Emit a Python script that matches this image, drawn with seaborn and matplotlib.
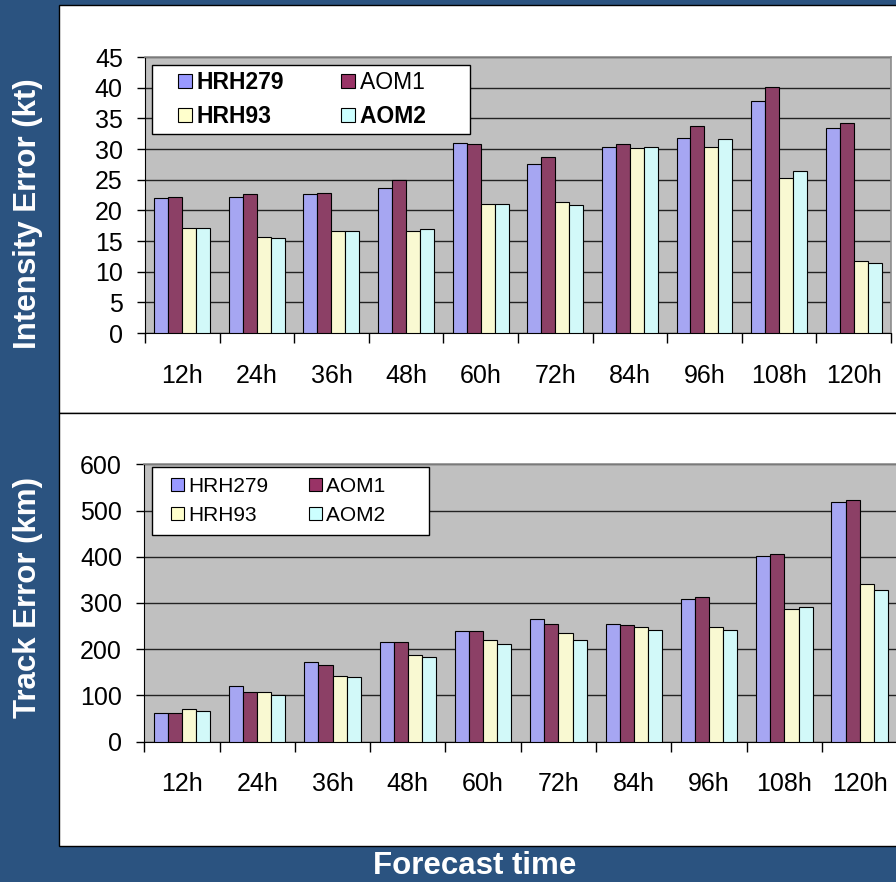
import matplotlib
matplotlib.use("Agg")
import matplotlib.pyplot as plt
from matplotlib.legend_handler import HandlerPatch
from matplotlib.patches import Patch, Rectangle
import pandas as pd
import seaborn as sns

plt.rcParams["font.family"] = ["Liberation Sans", "DejaVu Sans"]

NAVY = "#2B5380"
SERIES = ["HRH279", "AOM1", "HRH93", "AOM2"]
SERIES_COLORS = {"HRH279": "#9999FF", "AOM1": "#993366", "HRH93": "#FFFFCC", "AOM2": "#CCFFFF"}
LEAD_TIMES = ["12h", "24h", "36h", "48h", "60h", "72h", "84h", "96h", "108h", "120h"]

# intensity error (kt)
int_hrh279 = [22.0, 22.2, 22.6, 23.6, 31.0, 27.6, 30.3, 31.8, 37.9, 33.5]
int_aom1 = [22.2, 22.6, 22.8, 24.9, 30.8, 28.7, 30.8, 33.7, 40.2, 34.3]
int_hrh93 = [17.1, 15.6, 16.7, 16.7, 21.1, 21.4, 30.2, 30.3, 25.3, 11.8]
int_aom2 = [17.1, 15.5, 16.7, 16.9, 21.1, 20.9, 30.3, 31.6, 26.4, 11.4]

# track error (km)
trk_hrh279 = [63, 120, 172, 216, 239, 266, 255, 308, 402, 519]
trk_aom1 = [61, 107, 166, 215, 239, 255, 253, 313, 407, 522]
trk_hrh93 = [70, 107, 142, 188, 219, 236, 249, 247, 286, 342]
trk_aom2 = [66, 100, 139, 183, 211, 219, 242, 242, 291, 327]


def long_frame(values):
    rows = []
    for name, vals in zip(SERIES, values):
        for lead, v in zip(LEAD_TIMES, vals):
            rows.append({"lead": lead, "model": name, "value": v})
    return pd.DataFrame(rows)


def square_right(legend, orig_handle, xdescent, ydescent, width, height, fontsize):
    # small square marker pushed to the right end of the handle box
    return Rectangle((width - height - xdescent, -ydescent), height, height)


def draw_panel(ax, df, ymax, ystep, legend_anchor, legend_size, handlelen, colspace,
               tail, borderpad, bold_legend):
    ax.set_facecolor("#C0C0C0")
    sns.barplot(
        data=df, x="lead", y="value", hue="model",
        order=LEAD_TIMES, hue_order=SERIES, palette=SERIES_COLORS,
        width=0.75, gap=0, errorbar=None, edgecolor="black", linewidth=0.8,
        legend=False, ax=ax, zorder=3,
    )
    ax.set_xlim(-0.5, 9.5)
    ax.set_ylim(0, ymax)
    ax.set_yticks(range(0, ymax + 1, ystep))
    ax.set_xlabel("")
    ax.set_ylabel("")
    ax.yaxis.grid(True, color="#222222", linewidth=1.0, zorder=0)
    ax.set_axisbelow(True)
    ax.set_xticks([i - 0.5 for i in range(11)], minor=True)
    ax.tick_params(axis="x", which="major", length=0, pad=22, labelsize=18)
    ax.tick_params(axis="x", which="minor", length=7, width=1, direction="out")
    ax.tick_params(axis="y", length=6, width=1, pad=10, labelsize=18, direction="out")
    for side in ["top", "right"]:
        ax.spines[side].set_color("#8C8C8C")
        ax.spines[side].set_linewidth(1.2)
    ax.spines["left"].set_color("black")
    ax.spines["bottom"].set_color("black")

    handles = [Patch(facecolor=SERIES_COLORS[s], edgecolor="black", linewidth=0.8) for s in SERIES]
    order = [0, 2, 1, 3]
    labels = [SERIES[i] for i in order]
    # second column of the legend box has extra room on the right
    labels[2] = labels[2] + " " * tail
    labels[3] = labels[3] + " " * tail
    leg = ax.legend(
        [handles[i] for i in order], labels,
        ncol=2, loc="upper left", bbox_to_anchor=legend_anchor, borderaxespad=0,
        fontsize=legend_size, handlelength=handlelen, handleheight=0.58, handletextpad=0.2,
        columnspacing=colspace, borderpad=borderpad, labelspacing=0.5, fancybox=False,
        framealpha=1, edgecolor="black",
        handler_map={Patch: HandlerPatch(patch_func=square_right)},
    )
    leg.get_frame().set_linewidth(1.0)
    leg.set_zorder(5)
    for txt in leg.get_texts():
        if bold_legend and not txt.get_text().startswith("AOM1"):
            txt.set_fontweight("bold")


fig = plt.figure(figsize=(8.96, 8.82), dpi=100, facecolor=NAVY)

fig.patches.append(Rectangle((0.0658, 0.5317), 1.0, 0.4626, transform=fig.transFigure,
                             facecolor="white", edgecolor="black", linewidth=1.0, zorder=-2))
fig.patches.append(Rectangle((0.0655, 0.0408), 1.0, 0.4909, transform=fig.transFigure,
                             facecolor="white", edgecolor="black", linewidth=1.0, zorder=-2))

ax_top = fig.add_axes([0.1618, 0.6224, 0.8326, 0.3129])
ax_bot = fig.add_axes([0.1610, 0.1591, 0.8405, 0.3145])

draw_panel(ax_top, long_frame([int_hrh279, int_aom1, int_hrh93, int_aom2]), 45, 5,
           (0.009, 0.971), 16.5, 1.51, 1.6, 6, 0.25, True)
draw_panel(ax_bot, long_frame([trk_hrh279, trk_aom1, trk_hrh93, trk_aom2]), 600, 100,
           (0.0106, 0.989), 15, 1.09, 1.45, 6, 0.45, False)

fig.text(0.031, 0.758, "Intensity Error (kt)", rotation=90, color="white",
         fontsize=22.5, fontweight="bold", ha="center", va="center")
fig.text(0.031, 0.3226, "Track Error (km)", rotation=90, color="white",
         fontsize=22.5, fontweight="bold", ha="center", va="center")
fig.text(0.530, 0.018, "Forecast time", color="white",
         fontsize=22.5, fontweight="bold", ha="center", va="center")

fig.savefig("out.png", dpi=100, facecolor=NAVY)
